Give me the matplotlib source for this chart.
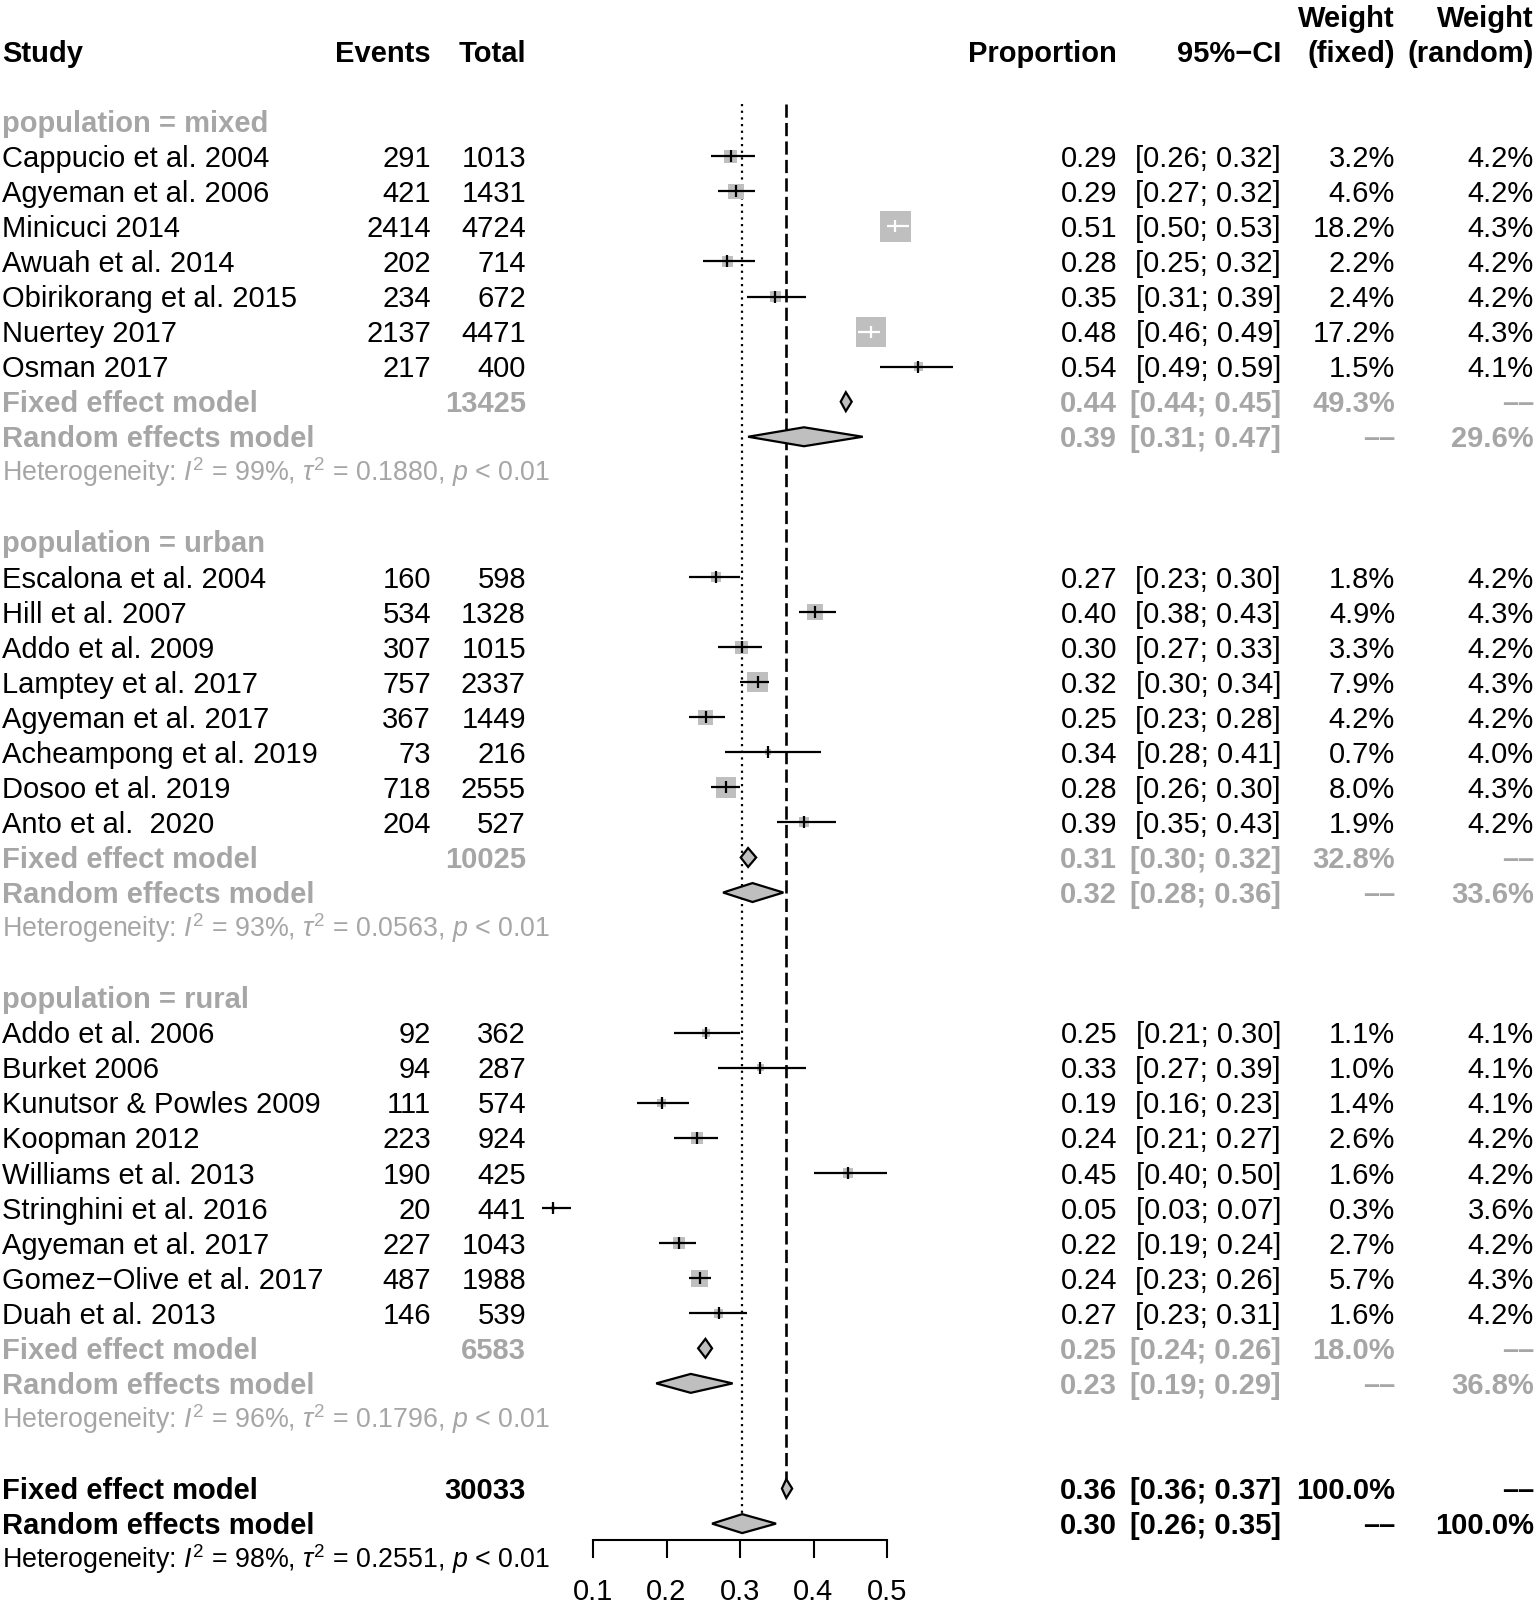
import matplotlib
matplotlib.use("Agg")
import matplotlib.pyplot as plt
import matplotlib.transforms as mtransforms
from matplotlib.patches import Polygon
import numpy as np

plt.rcParams['font.family'] = ['Liberation Sans', 'DejaVu Sans']
plt.rcParams['mathtext.fontset'] = 'custom'
plt.rcParams['mathtext.rm'] = 'Liberation Sans'
plt.rcParams['mathtext.it'] = 'Liberation Sans:italic'
plt.rcParams['mathtext.bf'] = 'Liberation Sans:bold'

# ---- study level data ----
group_names = ['mixed', 'urban', 'rural']
group = ['mixed'] * 7 + ['urban'] * 8 + ['rural'] * 9
study = [
    'Cappucio et al. 2004', 'Agyeman et al. 2006', 'Minicuci 2014',
    'Awuah et al. 2014', 'Obirikorang et al. 2015', 'Nuertey 2017', 'Osman 2017',
    'Escalona et al. 2004', 'Hill et al. 2007', 'Addo et al. 2009',
    'Lamptey et al. 2017', 'Agyeman et al. 2017', 'Acheampong et al. 2019',
    'Dosoo et al. 2019', 'Anto et al.  2020',
    'Addo et al. 2006', 'Burket 2006', 'Kunutsor & Powles 2009', 'Koopman 2012',
    'Williams et al. 2013', 'Stringhini et al. 2016', 'Agyeman et al. 2017',
    'Gomez\u2212Olive et al. 2017', 'Duah et al. 2013',
]
events = [291, 421, 2414, 202, 234, 2137, 217,
          160, 534, 307, 757, 367, 73, 718, 204,
          92, 94, 111, 223, 190, 20, 227, 487, 146]
totals = [1013, 1431, 4724, 714, 672, 4471, 400,
          598, 1328, 1015, 2337, 1449, 216, 2555, 527,
          362, 287, 574, 924, 425, 441, 1043, 1988, 539]
ci_lo = [0.26, 0.27, 0.50, 0.25, 0.31, 0.46, 0.49,
         0.23, 0.38, 0.27, 0.30, 0.23, 0.28, 0.26, 0.35,
         0.21, 0.27, 0.16, 0.21, 0.40, 0.03, 0.19, 0.23, 0.23]
ci_hi = [0.32, 0.32, 0.53, 0.32, 0.39, 0.49, 0.59,
         0.30, 0.43, 0.33, 0.34, 0.28, 0.41, 0.30, 0.43,
         0.30, 0.39, 0.23, 0.27, 0.50, 0.07, 0.24, 0.26, 0.31]
w_fixed = [3.2, 4.6, 18.2, 2.2, 2.4, 17.2, 1.5,
           1.8, 4.9, 3.3, 7.9, 4.2, 0.7, 8.0, 1.9,
           1.1, 1.0, 1.4, 2.6, 1.6, 0.3, 2.7, 5.7, 1.6]
w_random = [4.2, 4.2, 4.3, 4.2, 4.2, 4.3, 4.1,
            4.2, 4.3, 4.2, 4.3, 4.2, 4.0, 4.3, 4.2,
            4.1, 4.1, 4.1, 4.2, 4.2, 3.6, 4.2, 4.3, 4.2]

# ---- subgroup summaries ----
sub_fixed_est = [0.444, 0.311, 0.253]
sub_fixed_lo = [0.437, 0.301, 0.243]
sub_fixed_hi = [0.452, 0.322, 0.262]
sub_fixed_w = [49.3, 32.8, 18.0]
sub_random_est = [0.387, 0.317, 0.233]
sub_random_lo = [0.311, 0.277, 0.186]
sub_random_hi = [0.467, 0.359, 0.290]
sub_random_w = [29.6, 33.6, 36.8]
het_i2 = [99, 93, 96]
het_tau2 = [0.1880, 0.0563, 0.1796]

# ---- overall ----
all_fixed = (0.363, 0.357, 0.371)
all_random = (0.303, 0.262, 0.349)
all_i2, all_tau2 = 98, 0.2551

axis_ticks = [0.1, 0.2, 0.3, 0.4, 0.5]

# ---- layout (pixels) ----
W, H = 1536, 1604
X01_PX, X05_PX = 593.0, 887.0
UNIT = (X05_PX - X01_PX) / 0.4
ROW0_PX, ROW_PX = 51.1, 35.06
FS, FS_HET = 21, 19.3
GRAY = '#a6a6a6'
BOXGRAY = '#bfbfbf'
DASH = '\u2013\u2013'

col_study = 2
col_events = 431
col_total = 526
col_prop = 1117
col_ci = 1281
col_wf = 1395
col_wr = 1534

fig = plt.figure(figsize=(W / 100, H / 100), dpi=100)
ax = fig.add_axes([0, 0, 1, 1])
ax.axis('off')
ax.set_xlim(0.1 - X01_PX / UNIT, 0.1 + (W - X01_PX) / UNIT)
ax.set_ylim((H - ROW0_PX) / ROW_PX, -ROW0_PX / ROW_PX)
trans = mtransforms.blended_transform_factory(fig.transFigure, ax.transData)


def put(xpx, row, s, ha='right', bold=False, color='black', size=FS):
    off = 0.30 if size == FS else 0.27
    ax.text(xpx / W, row + off, s, transform=trans, ha=ha, va='baseline',
            fontsize=size, fontweight='bold' if bold else 'normal', color=color)


def diamond(est, lo, hi, row, h=0.27):
    ax.add_patch(Polygon([(lo, row), (est, row - h), (hi, row), (est, row + h)],
                         closed=True, facecolor=BOXGRAY, edgecolor='black',
                         linewidth=1.6, zorder=4))


def fmt_ci(lo, hi):
    return '[%.2f; %.2f]' % (lo, hi)


# header
put(col_study, 0, 'Study', ha='left', bold=True)
put(col_events, 0, 'Events', bold=True)
put(col_total, 0, 'Total', bold=True)
put(col_prop, 0, 'Proportion', bold=True)
put(col_ci, 0, '95%\u2212CI', bold=True)
put(col_wf, -1, 'Weight', bold=True)
put(col_wf, 0, '(fixed)', bold=True)
put(col_wr, -1, 'Weight', bold=True)
put(col_wr, 0, '(random)', bold=True)

props = np.array(events) / np.array(totals)
rows = []
row = 2
for gi, g in enumerate(group_names):
    put(col_study, row, 'population = %s' % g, ha='left', bold=True, color=GRAY)
    row += 1
    idx = [i for i, gg in enumerate(group) if gg == g]
    for i in idx:
        rows.append(row)
        put(col_study, row, study[i], ha='left')
        put(col_events, row, str(events[i]))
        put(col_total, row, str(totals[i]))
        put(col_prop, row, '%.2f' % props[i])
        put(col_ci, row, fmt_ci(ci_lo[i], ci_hi[i]))
        put(col_wf, row, '%.1f%%' % w_fixed[i])
        put(col_wr, row, '%.1f%%' % w_random[i])
        row += 1
    # fixed effect
    put(col_study, row, 'Fixed effect model', ha='left', bold=True, color=GRAY)
    put(col_total, row, str(sum(totals[i] for i in idx)), bold=True, color=GRAY)
    put(col_prop, row, '%.2f' % sub_fixed_est[gi], bold=True, color=GRAY)
    put(col_ci, row, fmt_ci(sub_fixed_lo[gi], sub_fixed_hi[gi]), bold=True, color=GRAY)
    put(col_wf, row, '%.1f%%' % sub_fixed_w[gi], bold=True, color=GRAY)
    put(col_wr, row, DASH, bold=True, color=GRAY)
    diamond(sub_fixed_est[gi], sub_fixed_lo[gi], sub_fixed_hi[gi], row)
    row += 1
    # random effects
    put(col_study, row, 'Random effects model', ha='left', bold=True, color=GRAY)
    put(col_prop, row, '%.2f' % sub_random_est[gi], bold=True, color=GRAY)
    put(col_ci, row, fmt_ci(sub_random_lo[gi], sub_random_hi[gi]), bold=True, color=GRAY)
    put(col_wf, row, DASH, bold=True, color=GRAY)
    put(col_wr, row, '%.1f%%' % sub_random_w[gi], bold=True, color=GRAY)
    diamond(sub_random_est[gi], sub_random_lo[gi], sub_random_hi[gi], row)
    row += 1
    put(col_study, row, r'Heterogeneity: $\mathit{I}^2$ = %d%%, $\tau^2$ = %.4f, $\mathit{p}$ < 0.01'
        % (het_i2[gi], het_tau2[gi]), ha='left', color=GRAY, size=FS_HET)
    row += 2

# overall
row_fixed = row
put(col_study, row, 'Fixed effect model', ha='left', bold=True)
put(col_total, row, str(sum(totals)), bold=True)
put(col_prop, row, '%.2f' % all_fixed[0], bold=True)
put(col_ci, row, fmt_ci(all_fixed[1], all_fixed[2]), bold=True)
put(col_wf, row, '100.0%', bold=True)
put(col_wr, row, DASH, bold=True)
diamond(*all_fixed, row)
row += 1
row_random = row
put(col_study, row, 'Random effects model', ha='left', bold=True)
put(col_prop, row, '%.2f' % all_random[0], bold=True)
put(col_ci, row, fmt_ci(all_random[1], all_random[2]), bold=True)
put(col_wf, row, DASH, bold=True)
put(col_wr, row, '100.0%', bold=True)
diamond(*all_random, row)
row += 1
put(col_study, row, r'Heterogeneity: $\mathit{I}^2$ = %d%%, $\tau^2$ = %.4f, $\mathit{p}$ < 0.01'
    % (all_i2, all_tau2), ha='left', size=FS_HET)

# reference lines
ax.vlines(all_random[0], 1.5, row_random - 0.27, color='black', lw=1.6,
          linestyles=(0, (1, 2)), zorder=1)
ax.vlines(all_fixed[0], 1.5, row_fixed - 0.27, color='black', lw=1.9,
          linestyles=(0, (5, 2)), zorder=1)

# study boxes, CIs, point ticks
rows = np.array(rows)
side_px = 7.27 * np.sqrt(np.array(w_fixed))
ax.scatter(props, rows, s=(side_px * 0.72) ** 2, marker='s', color=BOXGRAY,
           linewidths=0, zorder=2)
inside = (np.array(ci_hi) - np.array(ci_lo)) * UNIT < side_px
line_col = ['white' if f else 'black' for f in inside]
ax.hlines(rows, ci_lo, ci_hi, colors=line_col, lw=1.6, zorder=3)
for p, r, c in zip(props, rows, line_col):
    ax.plot(p, r, marker='|', markersize=8, mew=1.6, color=c, zorder=3)

# x axis
ax2 = fig.add_axes([X01_PX / W, 1 - 1540 / H, (X05_PX - X01_PX) / W, 0.001])
ax2.set_xlim(0.1, 0.5)
ax2.set_xticks(axis_ticks)
ax2.set_xticklabels(['%.1f' % t for t in axis_ticks])
ax2.tick_params(axis='x', direction='out', length=13, width=1.5, labelsize=FS, pad=14)
ax2.yaxis.set_visible(False)
for s in ['top', 'left', 'right']:
    ax2.spines[s].set_visible(False)
ax2.spines['bottom'].set_linewidth(1.5)
ax2.patch.set_visible(False)

fig.savefig('out.png', dpi=100)
